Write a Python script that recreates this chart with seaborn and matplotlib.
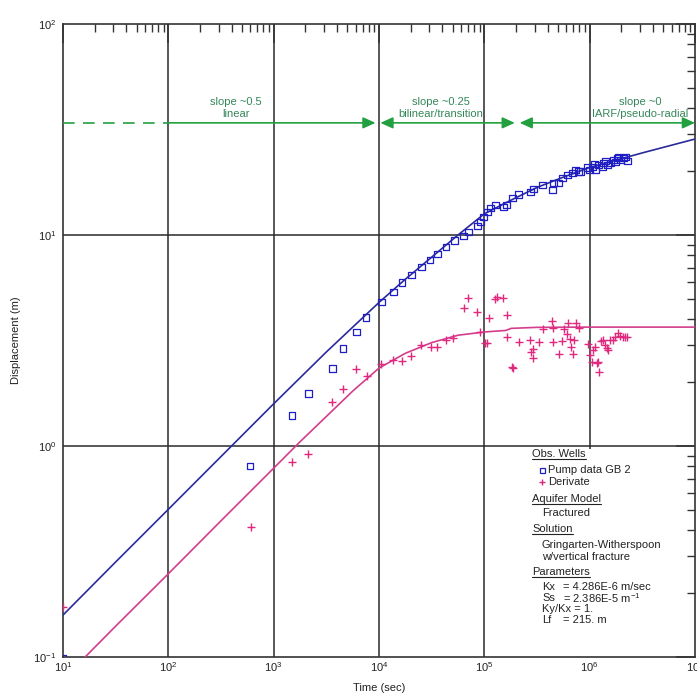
import matplotlib
matplotlib.use("Agg")
import matplotlib.pyplot as plt
from matplotlib.lines import Line2D
from matplotlib.patches import Rectangle, FancyArrowPatch
from matplotlib.ticker import (FixedLocator, LogLocator, NullFormatter,
                               LogFormatterMathtext)
import seaborn as sns

# Observed drawdown, pumping well GB 2 (time in s, displacement in m)
pump_time = [10, 597, 1496, 2123, 3589, 4560, 6067, 7534, 10470, 13610, 16560, 20180,
             25120, 30550, 35650, 43350, 51640, 62950, 70150, 85500, 91200, 97500,
             106400, 113500, 126800, 151000, 161100, 183700, 209400, 272300, 290400,
             354000, 440600, 449800, 502300, 548300, 610900, 682300, 727800, 778000,
             812800, 946200, 988500, 1.057e6, 1.104e6, 1.127e6, 1.205e6, 1.315e6,
             1.343e6, 1.403e6, 1.466e6, 1.567e6, 1.671e6, 1.746e6, 1.824e6, 1.866e6,
             1.950e6, 2.080e6, 2.173e6, 2.270e6]
pump_disp = [0.098, 0.804, 1.40, 1.78, 2.32, 2.91, 3.47, 4.05, 4.81, 5.37, 5.93, 6.46,
             7.05, 7.62, 8.13, 8.77, 9.38, 9.89, 10.33, 11.04, 11.53, 12.16,
             12.85, 13.43, 13.87, 13.58, 13.87, 14.96, 15.49, 16.00, 16.52,
             17.26, 16.33, 17.62, 17.62, 18.62, 19.23, 19.68, 20.32, 19.91,
             19.91, 20.80, 20.32, 20.99, 21.68, 20.32, 21.48, 20.99,
             21.93, 22.44, 21.48, 21.93, 22.65, 22.18, 23.17, 23.44,
             22.65, 23.17, 23.44, 22.44]

# Drawdown derivative
deriv_time = [10, 610, 1496, 2123, 3589, 4560, 6067, 7709, 10470, 13610, 16560, 20180,
              25120, 31260, 35650, 43350, 50580, 64270, 70150, 85500, 91200, 101900,
              106400, 111200, 126800, 132400, 151000, 164800, 164800, 183700, 188400,
              214300, 272300, 278000, 290400, 290400, 331100, 361400, 440600, 449800,
              449800, 512900, 548300, 572800, 610900, 625200, 653100, 666800, 696600,
              712800, 744700, 794300, 968300, 1.012e6, 1.057e6, 1.079e6, 1.127e6,
              1.178e6, 1.205e6, 1.230e6, 1.285e6, 1.343e6, 1.403e6, 1.466e6, 1.500e6,
              1.567e6, 1.671e6, 1.746e6, 1.866e6, 1.950e6, 2.080e6, 2.173e6, 2.270e6]
deriv_disp = [0.173, 0.413, 0.84, 0.916, 1.62, 1.86, 2.32, 2.15, 2.45, 2.56, 2.53, 2.67,
              3.01, 2.94, 2.94, 3.18, 3.25, 4.51, 5.02, 4.32, 3.47, 3.08,
              3.08, 4.05, 4.98, 5.08, 5.02, 4.18, 3.29, 2.37, 2.34,
              3.11, 3.18, 2.79, 2.88, 2.61, 3.11, 3.59, 3.91, 3.62,
              3.11, 2.73, 3.15, 3.59, 3.40, 3.83, 3.21, 2.94, 2.73,
              3.18, 3.83, 3.62, 3.04, 2.70, 2.50, 2.85, 2.94,
              2.47, 2.50, 2.24, 3.15, 3.18, 3.01, 2.91, 2.85,
              3.18, 3.18, 3.29, 3.44, 3.32, 3.29, 3.29, 3.29]

# Gringarten-Witherspoon vertical fracture type curve and its derivative
fit_time = [10, 31.6, 100, 316, 1000, 3162, 10000, 17780, 31620, 56230, 1e5,
            1.778e5, 3.162e5, 5.623e5, 1e6, 3.162e6, 1e7]
fit_disp = [0.158, 0.282, 0.501, 0.891, 1.585, 2.79, 4.79, 6.17, 7.85, 10.0, 12.6,
            14.6, 16.8, 18.8, 20.9, 24.5, 28.5]
fitd_time = [12.6, 31.6, 100, 316, 1000, 1778, 3162, 5623, 10000, 17780, 31620,
             56230, 1e5, 1.6e5, 1.8e5, 3.162e5, 1e6, 1e7]
fitd_disp = [0.088, 0.14, 0.248, 0.442, 0.785, 1.047, 1.38, 1.82, 2.34, 2.75, 3.09,
             3.35, 3.47, 3.53, 3.61, 3.65, 3.66, 3.66]

# Flow regimes
regime_bounds = [10, 100, 1e4, 2.1e5, 1e7]
regime_level = 34.0
regime_labels = ["slope ~0.5\nlinear", "slope ~0.25\nbilinear/transition",
                 "slope ~0\nIARF/pseudo-radial"]
regime_label_x = [440, 38900, 3.0e6]

x_decades = [1e1, 1e2, 1e3, 1e4, 1e5, 1e6, 1e7]
y_decades = [1e-1, 1e0, 1e1, 1e2]

legend_items = ["Pump data GB 2", "Derivate"]
params = [("Kx", "= 4.286E-6 m/sec"), ("Ss", "= 2.386E-5 m$^{-1}$"),
          ("Ky/Kx = 1.", ""), ("Lf", "= 215. m")]

BLUE_LINE = "#2a2a9c"
BLUE_MARK = "#1e1ec4"
PINK_LINE = "#d43c8c"
PINK_MARK = "#e0287f"
GREEN = "#22a040"
GREEN_TXT = "#35875a"
GRID = "#2a2a2a"

sns.set_theme(style="white")
plt.rcParams["font.family"] = ["Liberation Sans", "DejaVu Sans"]
plt.rcParams["mathtext.fontset"] = "custom"
plt.rcParams["mathtext.rm"] = "Liberation Sans"
plt.rcParams["mathtext.it"] = "Liberation Sans:italic"
plt.rcParams["mathtext.bf"] = "Liberation Sans:bold"

W, H = 697, 695
fig = plt.figure(figsize=(W / 100, H / 100), dpi=100)
ax = fig.add_axes([63 / W, 1 - 657 / H, 632 / W, 633 / H])
ax.set_xscale("log")
ax.set_yscale("log")
ax.set_xlim(x_decades[0], x_decades[-1])
ax.set_ylim(y_decades[0], y_decades[-1])

# decade grid
for xv in x_decades[1:-1]:
    ax.axvline(xv, color=GRID, lw=1.1, zorder=1)
for yv in y_decades[1:-1]:
    ax.axhline(yv, color=GRID, lw=1.1, zorder=1)

# blank panel behind the annotation block
ax.add_patch(Rectangle((0.70, 0.0), 0.30, 0.329, transform=ax.transAxes,
                       facecolor="white", edgecolor="none", zorder=2))

sns.lineplot(x=fit_time, y=fit_disp, ax=ax, color=BLUE_LINE, lw=1.2, zorder=3)
sns.lineplot(x=fitd_time, y=fitd_disp, ax=ax, color=PINK_LINE, lw=1.2, zorder=3)
sns.scatterplot(x=pump_time, y=pump_disp, ax=ax, marker="s", s=24,
                facecolor="none", edgecolor=BLUE_MARK, linewidth=0.9, zorder=4)
sns.scatterplot(x=deriv_time, y=deriv_disp, ax=ax, marker="+", s=30,
                color=PINK_MARK, linewidth=1.0, zorder=4)

# flow regime arrows
ax.plot(regime_bounds[0:2], [regime_level] * 2, color=GREEN, lw=1.2,
        dashes=(7, 5), zorder=3)
arrow_styles = ["-|>", "<|-|>", "<|-|>"]
for i, style in enumerate(arrow_styles):
    a = FancyArrowPatch((regime_bounds[i + 1], regime_level),
                        (regime_bounds[i + 2], regime_level),
                        arrowstyle=f"{style},head_length=7.5,head_width=3.4",
                        mutation_scale=1, color=GREEN, lw=1.2,
                        shrinkA=1.0 if i else 0, shrinkB=2.5 if i < 2 else 0,
                        zorder=3)
    ax.add_patch(a)
for xl, lab in zip(regime_label_x, regime_labels):
    ax.text(xl, 40.0, lab, ha="center", va="center", fontsize=8,
            color=GREEN_TXT, linespacing=1.35, zorder=3)

# axes styling
ax.set_axisbelow(False)
for sp in ax.spines.values():
    sp.set_color("#333333")
    sp.set_linewidth(1.2)
ax.xaxis.set_major_locator(FixedLocator(x_decades))
ax.yaxis.set_major_locator(FixedLocator(y_decades))
ax.xaxis.set_minor_locator(LogLocator(base=10, subs=range(2, 10), numticks=100))
ax.yaxis.set_minor_locator(LogLocator(base=10, subs=range(2, 10), numticks=100))
ax.xaxis.set_major_formatter(LogFormatterMathtext())
ax.yaxis.set_major_formatter(LogFormatterMathtext())
ax.xaxis.set_minor_formatter(NullFormatter())
ax.yaxis.set_minor_formatter(NullFormatter())
ax.tick_params(which="both", direction="in", top=True, right=True,
               color="#333333", labelsize=8, labelcolor="#222222")
ax.tick_params(which="major", length=14, width=1.1)
ax.tick_params(which="minor", length=5.5, width=1.0)
ax.tick_params(axis="x", which="major", pad=2)
ax.tick_params(axis="y", which="major", pad=5)

ax.set_xlabel("Time (sec)", fontsize=8, color="#222222")
ax.set_ylabel("Displacement (m)", fontsize=8, color="#222222")
ax.xaxis.set_label_coords(0.5, -0.041)
ax.yaxis.set_label_coords(-0.067, 0.5)


def ptext(x, y, s, **kw):
    return fig.text(x / W, 1 - y / H, s, fontsize=8, ha="left", va="center",
                    color="#222222", **kw)


headers = [(532, 454, "Obs. Wells"), (532, 499, "Aquifer Model"),
           (532, 529, "Solution"), (532, 572, "Parameters")]
header_texts = [ptext(x, y, s) for x, y, s in headers]

# legend entries
fig.add_artist(Line2D([542 / W], [1 - 469.5 / H], marker="s", markersize=3.6,
                      markerfacecolor="none", markeredgecolor=BLUE_MARK,
                      markeredgewidth=0.9, linestyle="none"))
fig.add_artist(Line2D([542 / W], [1 - 482 / H], marker="+", markersize=4.5,
                      color=PINK_MARK, markeredgewidth=1.0, linestyle="none"))
ptext(548, 470, legend_items[0])
ptext(548, 482, legend_items[1])

ptext(542, 513, "Fractured")
ptext(542, 545, "Gringarten-Witherspoon")
ptext(542, 557, "w/vertical fracture")
param_y = [587, 598, 609, 620]
for (k, v), y in zip(params, param_y):
    ptext(542, y, k)
    if v:
        ptext(563, y, v)

# underline the section headings
fig.canvas.draw()
renderer = fig.canvas.get_renderer()
for t in header_texts:
    bb = t.get_window_extent(renderer)
    yc = (bb.y0 + bb.y1) / 2 - 5
    fig.add_artist(Line2D([bb.x0 / W, bb.x1 / W], [yc / H, yc / H],
                          color="#222222", lw=0.8))

fig.savefig("out.png", dpi=100)
